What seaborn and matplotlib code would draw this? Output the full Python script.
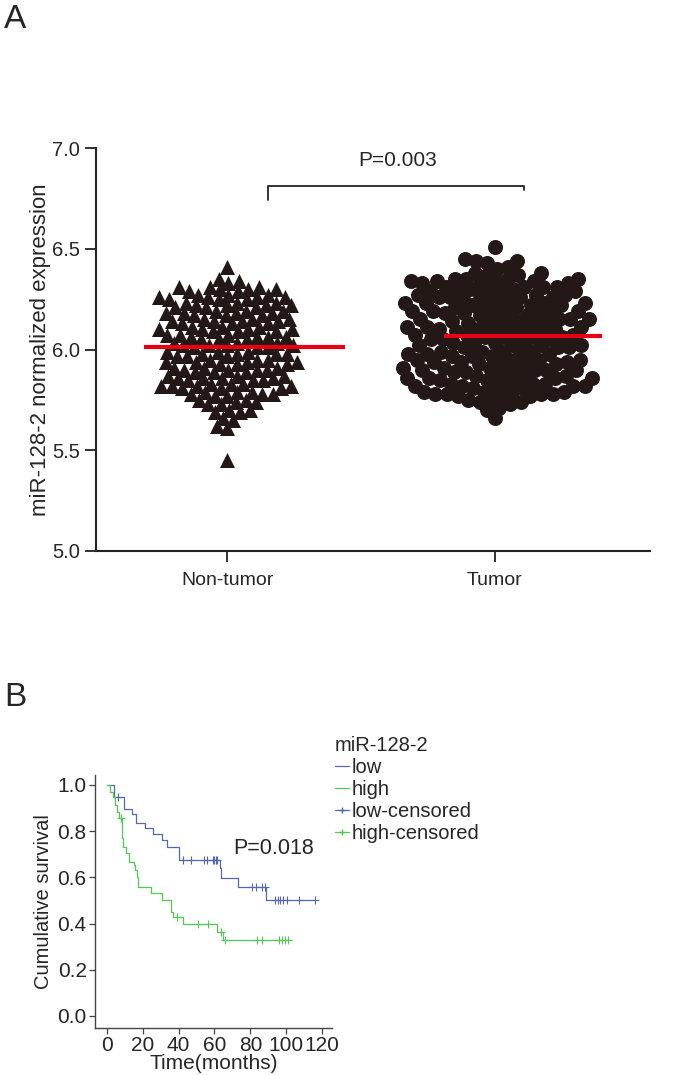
import numpy as np
import matplotlib
matplotlib.use("Agg")
import matplotlib.pyplot as plt
import seaborn as sns
from matplotlib.lines import Line2D

sns.set_style("ticks")
plt.rcParams["font.family"] = ["Liberation Sans", "DejaVu Sans"]

# ---------------------------------------------------
# Panel A data: miR-128-2 normalized expression
# ---------------------------------------------------
groups = ["Non-tumor", "Tumor"]

non_tumor = [
    6.41,
    6.35, 6.33, 6.34,
    6.30, 6.31, 6.29, 6.30, 6.31, 6.29, 6.30, 6.31,
    6.26, 6.27, 6.25, 6.26, 6.27, 6.25, 6.26, 6.27, 6.25, 6.26,
    6.22, 6.23, 6.21, 6.22, 6.23, 6.21, 6.22, 6.23, 6.21, 6.22,
    6.18, 6.19, 6.17, 6.18, 6.19, 6.17, 6.18, 6.19, 6.17, 6.18,
    6.14, 6.15, 6.13, 6.14, 6.15, 6.13, 6.14, 6.15, 6.13, 6.14,
    6.10, 6.11, 6.09, 6.10, 6.11, 6.09, 6.10, 6.11, 6.09, 6.10,
    6.06, 6.07, 6.05, 6.06, 6.07, 6.05, 6.06, 6.07, 6.05, 6.06,
    6.02, 6.03, 6.01, 6.02, 6.03, 6.01, 6.02, 6.03, 6.01, 6.02,
    5.98, 5.99, 5.97, 5.98, 5.99, 5.97, 5.98, 5.99, 5.97, 5.98,
    5.94, 5.95, 5.93, 5.94, 5.95, 5.93, 5.94, 5.95, 5.93, 5.94,
    5.90, 5.91, 5.89, 5.90, 5.91, 5.89, 5.90, 5.91, 5.89, 5.90,
    5.86, 5.87, 5.85, 5.86, 5.87, 5.85, 5.86, 5.87, 5.85, 5.86,
    5.82, 5.83, 5.81, 5.82, 5.83, 5.81, 5.82, 5.83, 5.81, 5.82,
    5.78, 5.79, 5.77, 5.78, 5.79, 5.77, 5.78, 5.79,
    5.74, 5.75, 5.73, 5.74, 5.75, 5.73,
    5.70, 5.69, 5.70, 5.69,
    5.66, 5.65,
    5.62, 5.61,
    5.45,
]

tumor = [
    6.51,
    6.45, 6.44, 6.43, 6.44,
    6.40, 6.41,
    6.37, 6.38, 6.37, 6.38,
    6.34, 6.35, 6.33, 6.34, 6.35, 6.33, 6.34, 6.35, 6.33, 6.34, 6.35,
    6.30, 6.31, 6.29, 6.30, 6.31, 6.29, 6.30, 6.31, 6.29, 6.30, 6.31,
    6.26, 6.27, 6.25, 6.26, 6.27, 6.25, 6.26, 6.27, 6.25, 6.26, 6.27,
    6.22, 6.23, 6.21, 6.22, 6.23, 6.21, 6.22, 6.23, 6.21, 6.22, 6.23,
    6.18, 6.19, 6.17, 6.18, 6.19, 6.17, 6.18, 6.19, 6.17, 6.18, 6.19,
    6.14, 6.15, 6.13, 6.14, 6.15, 6.13, 6.14, 6.15, 6.13, 6.14, 6.15,
    6.10, 6.11, 6.09, 6.10, 6.11, 6.09, 6.10, 6.11, 6.09, 6.10, 6.11,
    6.06, 6.07, 6.05, 6.06, 6.07, 6.05, 6.06, 6.07, 6.05, 6.06, 6.07,
    6.02, 6.03, 6.01, 6.02, 6.03, 6.01, 6.02, 6.03, 6.01, 6.02, 6.03,
    5.98, 5.99, 5.97, 5.98, 5.99, 5.97, 5.98, 5.99, 5.97, 5.98, 5.99,
    5.94, 5.95, 5.93, 5.94, 5.95, 5.93, 5.94, 5.95, 5.93, 5.94, 5.95,
    5.90, 5.91, 5.89, 5.90, 5.91, 5.89, 5.90, 5.91, 5.89, 5.90, 5.91,
    5.86, 5.87, 5.85, 5.86, 5.87, 5.85, 5.86, 5.87, 5.85, 5.86, 5.87,
    5.82, 5.83, 5.81, 5.82, 5.83, 5.81, 5.82, 5.83, 5.81, 5.82, 5.83,
    5.78, 5.79, 5.77, 5.78, 5.79, 5.77, 5.78, 5.79, 5.77, 5.78, 5.79,
    5.74, 5.75, 5.73, 5.74, 5.75,
    5.70, 5.71,
    5.66,
]

p_expr = "P=0.003"

# ---------------------------------------------------
# Panel B data: Kaplan-Meier curves (step times / survival after step)
# ---------------------------------------------------
low_times = [0, 3.9, 9.5, 14.0, 16.0, 21.0, 25.5, 30.5, 33.3, 40.2, 62.8, 63.7, 73.0, 88.7]
low_surv = [1.0, 0.949, 0.895, 0.873, 0.837, 0.815, 0.788, 0.762, 0.733, 0.675, 0.639, 0.596, 0.557, 0.502]
low_end = 116.2
low_censored = [6.3, 42.6, 46.8, 54.2, 56.0, 59.0, 59.8, 60.9, 61.6,
                81.0, 83.0, 86.5, 88.0, 93.9, 95.3, 96.6, 98.1, 100.6, 107.0, 116.2]

high_times = [0, 1.7, 3.5, 4.5, 5.4, 6.9, 8.2, 9.1, 10.6, 12.5, 15.3, 15.6, 16.6, 17.1,
              24.6, 30.5, 35.6, 36.7, 42.6, 61.3, 64.6]
high_surv = [1.0, 0.971, 0.949, 0.913, 0.884, 0.856, 0.769, 0.733, 0.704, 0.668, 0.654, 0.632,
             0.603, 0.557, 0.531, 0.502, 0.452, 0.430, 0.398, 0.365, 0.329]
high_end = 101.0
high_censored = [7.6, 39.3, 51.0, 56.4, 63.5, 65.9, 83.6, 86.8, 96.1, 97.9, 99.4, 100.9]

p_surv = "P=0.018"

dark = "#231815"
red = "#e60012"
blue = "#5467b2"
green = "#52c952"

W, H = 693, 1075
fig = plt.figure(figsize=(W / 100, H / 100), dpi=100)
axA = fig.add_axes([96 / W, 1 - 551 / H, (650 - 96) / W, (551 - 148) / H])
axB = fig.add_axes([95 / W, 1 - 1028 / H, (332 - 95) / W, (1028 - 775) / H])

# ---------------------------------------------------
# A: scatter of expression
# ---------------------------------------------------
sns.swarmplot(x=["Non-tumor"] * len(non_tumor), y=non_tumor, order=groups,
              marker="^", color=dark, size=7.2, ax=axA, warn_thresh=1)
sns.swarmplot(x=["Tumor"] * len(tumor), y=tumor, order=groups,
              marker="o", color=dark, size=7.8, ax=axA, warn_thresh=1)
axA.set_xlim(-0.49, 1.58)
axA.set_ylim(5.0, 7.0)

# place the swarm with small markers, then draw them at full size (overlapping)
fig.canvas.draw()
for coll in axA.collections:
    if "draw" in coll.__dict__:
        del coll.draw
    coll.set_sizes([10.8 ** 2])

spans = [(-0.31, 0.44), (-0.19, 0.40)]
for i, vals in enumerate([non_tumor, tumor]):
    m = np.mean(vals)
    axA.hlines(m, i + spans[i][0], i + spans[i][1], color=red, lw=3, zorder=5)

axA.plot([0.154, 0.154, 1.109, 1.109], [6.74, 6.81, 6.81, 6.79], color="#222222", lw=1.3)
axA.text(0.637, 6.94, p_expr, ha="center", va="center", fontsize=15)

axA.set_yticks([5.0, 5.5, 6.0, 6.5, 7.0])
axA.set_yticklabels([f"{v:.1f}" for v in [5.0, 5.5, 6.0, 6.5, 7.0]])
axA.tick_params(axis="both", length=8, width=1.3, labelsize=14.5, color="#222222")
axA.tick_params(axis="x", pad=7, labelsize=14)
axA.set_xlabel("")
axA.set_ylabel("miR-128-2 normalized expression", fontsize=16, labelpad=1)
sns.despine(ax=axA)
for s in ["left", "bottom"]:
    axA.spines[s].set_linewidth(1.5)
    axA.spines[s].set_color("#222222")

# ---------------------------------------------------
# B: survival curves
# ---------------------------------------------------
def at_time(times, surv, t):
    idx = np.searchsorted(times, t, side="right") - 1
    return np.array(surv)[idx]

for times, surv, end, cens, col in [(low_times, low_surv, low_end, low_censored, blue),
                                    (high_times, high_surv, high_end, high_censored, green)]:
    sns.lineplot(x=times + [end], y=surv + [surv[-1]], drawstyle="steps-post",
                 estimator=None, sort=False, color=col, lw=0.9, ax=axB)
    sns.scatterplot(x=cens, y=at_time(times, surv, cens), marker="+", color=col,
                    s=28, linewidth=0.8, ax=axB, legend=False)

axB.set_xlim(-6.7, 125.6)
axB.set_ylim(-0.052, 1.043)
axB.set_xticks(range(0, 121, 20))
axB.set_yticks([0, 0.2, 0.4, 0.6, 0.8, 1.0])
axB.set_yticklabels([f"{v:.1f}" for v in [0, 0.2, 0.4, 0.6, 0.8, 1.0]])
axB.tick_params(axis="both", length=4, width=0.9, labelsize=15, color="#444444", pad=2)
axB.set_xlabel("Time(months)", fontsize=15, labelpad=-1)
axB.set_ylabel("Cumulative survival", fontsize=14.5, labelpad=3)
axB.text(70.2, 0.727, p_surv, ha="left", va="center", fontsize=15.5)
sns.despine(ax=axB)
for s in ["left", "bottom"]:
    axB.spines[s].set_linewidth(1.0)
    axB.spines[s].set_color("#444444")

handles = [
    Line2D([0], [0], color=blue, lw=0.9),
    Line2D([0], [0], color=green, lw=0.9),
    Line2D([0], [0], color=blue, lw=0.9, marker="+", markersize=5),
    Line2D([0], [0], color=green, lw=0.9, marker="+", markersize=5),
]
fig.legend(handles, ["low", "high", "low-censored", "high-censored"], title="miR-128-2",
           loc="upper left", bbox_to_anchor=(335 / W, 1 - 736 / H), frameon=False,
           fontsize=14.5, title_fontsize=14.5, handlelength=0.7, handletextpad=0.15,
           labelspacing=0.15, alignment="left", borderaxespad=0, borderpad=0)

fig.text(4 / W, 1 - 4 / H, "A", fontsize=24, ha="left", va="top")
fig.text(4 / W, 1 - 682 / H, "B", fontsize=24, ha="left", va="top")

fig.savefig("out.png", dpi=100)
